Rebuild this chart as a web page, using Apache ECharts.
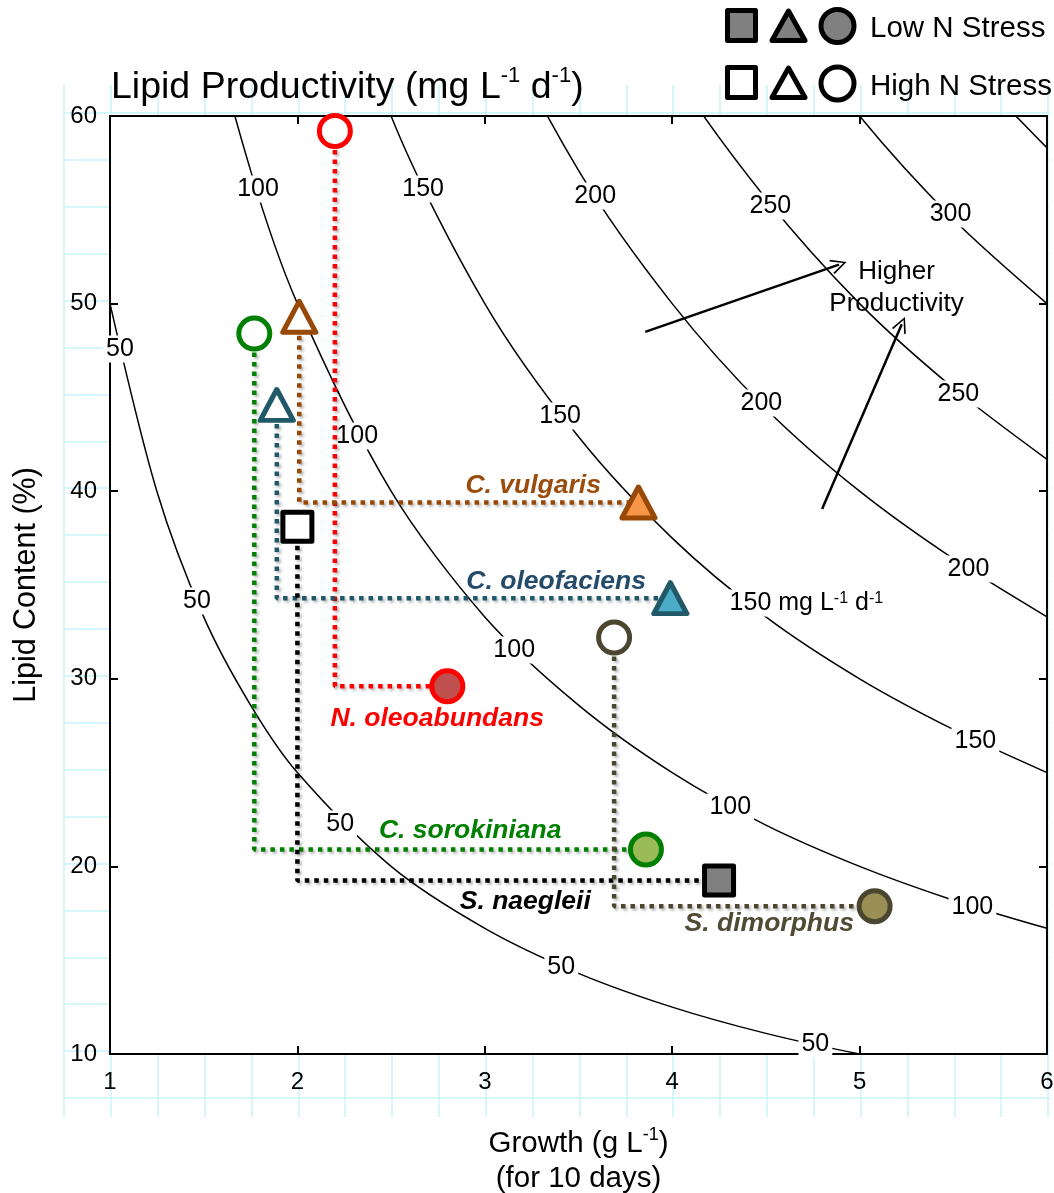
<!DOCTYPE html>
<html>
<head>
<meta charset="utf-8">
<script src="https://cdn.jsdelivr.net/npm/echarts@6/dist/echarts.min.js"></script>
<style>
  body { margin: 0; background: #fff; }
  #chart { width: 1054px; height: 1193px; }
</style>
</head>
<body>
<div id="chart"></div>
<script>
// species: high N stress (open marker) -> low N stress (filled marker)
const species = ['N. oleoabundans', 'C. vulgaris', 'C. oleofaciens', 'C. sorokiniana', 'S. naegleii', 'S. dimorphus'];
const highGrowth = [2.20, 2.01, 1.89, 1.77, 2.00, 3.69];
const highLipid = [59.2, 49.3, 44.6, 48.4, 38.1, 32.2];
const lowGrowth = [2.80, 3.82, 3.99, 3.86, 4.25, 5.08];
const lowLipid = [29.6, 39.4, 34.3, 20.9, 19.25, 17.88];
const shapes = ['circle', 'triangle', 'triangle', 'circle', 'rect', 'circle'];
const strokeColors = ['#ff0000', '#984807', '#215968', '#008000', '#000000', '#4a4630'];
const fillColors = ['#c0504d', '#f79646', '#4bacc6', '#9bbb59', '#808080', '#9a9056'];
const nameColors = ['#ff0000', '#9c4c0c', '#244b6a', '#008000', '#000000', '#4f4b34'];
const nameX = [2.746, 3.258, 3.381, 2.922, 3.216, 4.518];
const nameY = [27.86, 40.28, 35.16, 21.89, 18.1, 16.93];

// productivity contours (mg L-1 d-1), lipid content read along growth samples
const contourX = [1, 1.25, 1.5, 1.75, 2, 2.5, 3, 3.5, 4, 4.5, 5, 5.5, 6];
const contour50 = [50, 40, 33.3, 28.6, 25, 20, 16.7, 14.3, 12.5, 11.1, 10, 9.1, 8.3];
const contour100 = [100, 80, 66.7, 57.1, 50, 40, 33.3, 28.6, 25, 22.2, 20, 18.2, 16.7];
const contour150 = [150, 120, 100, 85.7, 75, 60, 50, 42.9, 37.5, 33.3, 30, 27.3, 25];
const contour200 = [200, 160, 133.3, 114.3, 100, 80, 66.7, 57.1, 50, 44.4, 40, 36.4, 33.3];
const contour250 = [250, 200, 166.7, 142.9, 125, 100, 83.3, 71.4, 62.5, 55.6, 50, 45.5, 41.7];
const contour300 = [300, 240, 200, 171.4, 150, 120, 100, 85.7, 75, 66.7, 60, 54.5, 50];
const contour350 = [350, 280, 233.3, 200, 175, 140, 116.7, 100, 87.5, 77.8, 70, 63.6, 58.3];

// contour labels
const contourLabelText = ['100', '150', '200', '250', '300', '50', '100', '150', '200', '250',
  '50', '100', '150 mg', '200', '100', '150', '50', '100', '50', '50'];
const contourLabelX = [1.790, 2.671, 3.589, 4.524, 5.485, 1.053, 2.319, 3.402, 4.476, 5.527,
  1.464, 3.157, 4.716, 5.581, 4.31, 5.618, 2.228, 5.602, 3.408, 4.764];
const contourLabelY = [56.11, 56.11, 55.74, 55.20, 54.78, 47.58, 42.94, 44.01, 44.70, 45.18,
  34.15, 31.54, 34.04, 35.85, 23.17, 26.68, 22.26, 17.84, 14.64, 10.53];

const xTicks = [1, 2, 3, 4, 5, 6];
const yTicks = [10, 20, 30, 40, 50, 60];

const FONT = 'Liberation Sans, Arial, Helvetica, sans-serif';
const gridColor = '#c9f5f7';

let chart = echarts.init(document.getElementById('chart'));

const contours = [contour50, contour100, contour150, contour200, contour250, contour300, contour350];
const contourSeries = contours.map(c => ({
  type: 'line',
  xAxisIndex: 2,
  yAxisIndex: 2,
  z: 3,
  smooth: 0.3,
  symbol: 'none',
  silent: true,
  lineStyle: {color: '#000', width: 1.5},
  data: contourX.map((x, i) => [x, c[i]])
}));

const contourLabelSeries = {
  type: 'scatter',
  xAxisIndex: 2,
  yAxisIndex: 2,
  z: 4,
  symbolSize: 0,
  silent: true,
  itemStyle: {opacity: 1},
  label: {
    show: true,
    position: 'inside',
    color: '#000',
    fontFamily: FONT,
    fontSize: 25,
    backgroundColor: '#fff',
    padding: [1, 3],
    formatter: p => p.value[2] === '150 mg' ? '150 mg L{s|-1} d{s|-1}' : p.value[2],
    rich: {
      s: {fontSize: 16, lineHeight: 14, verticalAlign: 'top', fontFamily: FONT, color: '#000'}
    }
  },
  data: contourLabelText.map((t, i) => [contourLabelX[i], contourLabelY[i], t])
};

// dotted connectors: open marker -> down -> across to filled marker
const connectorSeries = species.map((s, i) => ({
  type: 'line',
  xAxisIndex: 2,
  yAxisIndex: 2,
  z: 5,
  symbol: 'none',
  silent: true,
  lineStyle: {
    color: strokeColors[i],
    width: 4.5,
    type: [4.5, 5],
    shadowBlur: 3,
    shadowColor: 'rgba(0,0,0,0.3)',
    shadowOffsetX: 2,
    shadowOffsetY: 2
  },
  data: [[highGrowth[i], highLipid[i]], [highGrowth[i], lowLipid[i]], [lowGrowth[i], lowLipid[i]]]
}));

function symbolSize(shape) {
  if (shape === 'triangle') return [33, 31];
  if (shape === 'rect') return 29;
  return 31;
}

const highSeries = {
  type: 'scatter',
  name: 'High N Stress',
  xAxisIndex: 2,
  yAxisIndex: 2,
  z: 6,
  data: species.map((s, i) => ({
    value: [highGrowth[i], highLipid[i]],
    symbol: shapes[i],
    symbolSize: symbolSize(shapes[i]),
    itemStyle: {color: '#fff', borderColor: strokeColors[i], borderWidth: 5, borderJoin: 'round', opacity: 1}
  }))
};

const lowSeries = {
  type: 'scatter',
  name: 'Low N Stress',
  xAxisIndex: 2,
  yAxisIndex: 2,
  z: 6,
  data: species.map((s, i) => ({
    value: [lowGrowth[i], lowLipid[i]],
    symbol: shapes[i],
    symbolSize: symbolSize(shapes[i]),
    itemStyle: {color: fillColors[i], borderColor: strokeColors[i], borderWidth: 5, borderJoin: 'round', opacity: 1}
  }))
};

const nameSeries = {
  type: 'scatter',
  xAxisIndex: 2,
  yAxisIndex: 2,
  z: 7,
  symbolSize: 0,
  silent: true,
  itemStyle: {opacity: 1},
  data: species.map((s, i) => ({
    value: [nameX[i], nameY[i]],
    label: {
      show: true,
      position: 'inside',
      formatter: s,
      color: nameColors[i],
      fontFamily: FONT,
      fontSize: 26.5,
      fontWeight: 'bold',
      fontStyle: 'italic'
    }
  }))
};

// "Higher Productivity" arrows
const arrowHead = 'path://M0,0 L10,18 L8,19 L0,4 L-8,19 L-10,18 Z';
const arrowSeries = {
  type: 'line',
  xAxisIndex: 2,
  yAxisIndex: 2,
  z: 4,
  symbol: 'none',
  silent: true,
  data: [],
  markLine: {
    silent: true,
    symbol: ['none', arrowHead],
    symbolSize: [15, 16],
    label: {show: false},
    lineStyle: {color: '#000', width: 2.5, type: 'solid'},
    data: [
      [{coord: [3.856, 48.49]}, {coord: [4.89, 52.08]}],
      [{coord: [4.80, 39.05]}, {coord: [5.225, 48.9]}]
    ]
  }
};

const higherTextSeries = {
  type: 'scatter',
  xAxisIndex: 2,
  yAxisIndex: 2,
  z: 4,
  symbolSize: 0,
  silent: true,
  itemStyle: {opacity: 1},
  label: {
    show: true,
    position: 'inside',
    formatter: 'Higher\nProductivity',
    color: '#000',
    fontFamily: FONT,
    fontSize: 26,
    lineHeight: 32,
    align: 'center'
  },
  data: [[5.197, 50.86]]
};

const hiddenAxis = {
  axisLine: {show: false},
  axisTick: {show: false},
  axisLabel: {show: false}
};

const mainAxisCommon = {
  gridIndex: 2,
  type: 'value',
  z: 1,
  axisLine: {show: true, lineStyle: {color: '#000', width: 2}},
  axisTick: {show: true, inside: true, length: 8, lineStyle: {color: '#000', width: 2}},
  splitLine: {show: false}
};

const option = {
  backgroundColor: '#fff',
  animation: false,
  title: {
    left: 106,
    top: 60,
    text: '{a|Lipid Productivity (mg L}{s|-1}{a| d}{s|-1}{a|)}',
    textStyle: {
      fontWeight: 'normal',
      rich: {
        a: {fontSize: 37.5, lineHeight: 46, fontFamily: FONT, fontWeight: 'normal', color: '#000'},
        s: {fontSize: 22, lineHeight: 23, verticalAlign: 'top', fontFamily: FONT, fontWeight: 'normal', color: '#000'}
      }
    }
  },
  grid: [
    {left: 64, top: 85, width: 984, height: 1032, show: false, outerBoundsMode: 'none'},
    {left: 64, top: 113, width: 986, height: 985, show: false, outerBoundsMode: 'none'},
    {left: 110, top: 116, width: 937, height: 938, show: true, outerBoundsMode: 'none',
      backgroundColor: '#fff', borderColor: '#000', borderWidth: 2}
  ],
  xAxis: [
    Object.assign({gridIndex: 0, type: 'value', min: 0, max: 21, interval: 1, z: 0,
      splitLine: {show: true, lineStyle: {color: gridColor, width: 1.5}}}, hiddenAxis),
    Object.assign({gridIndex: 1, type: 'value', min: 0, max: 1, z: 0, splitLine: {show: false}}, hiddenAxis),
    Object.assign({}, mainAxisCommon, {
      position: 'bottom',
      min: xTicks[0], max: xTicks[xTicks.length - 1], interval: 1,
      splitArea: {show: true, areaStyle: {color: ['#fff']}},
      axisLabel: {show: true, color: '#000', fontSize: 24, fontFamily: FONT, margin: 16},
      name: '{a|Growth (g L}{s|-1}{a|)}\n{a|(for 10 days)}',
      nameLocation: 'middle',
      nameGap: 72,
      nameTextStyle: {
        rich: {
          a: {fontSize: 29.5, lineHeight: 35, fontFamily: FONT, color: '#000', align: 'center'},
          s: {fontSize: 18, lineHeight: 16, verticalAlign: 'top', fontFamily: FONT, color: '#000'}
        }
      }
    }),
    Object.assign({}, mainAxisCommon, {
      position: 'top',
      min: xTicks[0], max: xTicks[xTicks.length - 1], interval: 1,
      axisLabel: {show: false}
    })
  ],
  yAxis: [
    Object.assign({gridIndex: 0, type: 'value', min: 0, max: 1, z: 0, splitLine: {show: false}}, hiddenAxis),
    Object.assign({gridIndex: 1, type: 'value', min: 0, max: 21, interval: 1, z: 0,
      splitLine: {show: true, lineStyle: {color: gridColor, width: 1.5}}}, hiddenAxis),
    Object.assign({}, mainAxisCommon, {
      position: 'left',
      min: yTicks[0], max: yTicks[yTicks.length - 1], interval: 10,
      axisLabel: {show: true, color: '#000', fontSize: 24, fontFamily: FONT, margin: 13},
      name: 'Lipid Content (%)',
      nameLocation: 'middle',
      nameGap: 68,
      nameTextStyle: {fontSize: 30.5, fontFamily: FONT, color: '#000'}
    }),
    Object.assign({}, mainAxisCommon, {
      position: 'right',
      min: yTicks[0], max: yTicks[yTicks.length - 1], interval: 10,
      axisLabel: {show: false}
    })
  ],
  graphic: [
    // legend: Low N Stress
    {type: 'rect', shape: {x: 727.5, y: 10.5, width: 28, height: 30},
      style: {fill: '#808080', stroke: '#000', lineWidth: 5, lineJoin: 'round'}, z: 10},
    {type: 'polygon', shape: {points: [[788.5, 11], [805, 40.5], [772, 40.5]]},
      style: {fill: '#808080', stroke: '#000', lineWidth: 5, lineJoin: 'round'}, z: 10},
    {type: 'circle', shape: {cx: 837.5, cy: 26, r: 16.5},
      style: {fill: '#808080', stroke: '#000', lineWidth: 5}, z: 10},
    {type: 'text', x: 870, y: 29, z: 10,
      style: {text: 'Low N Stress', fontSize: 29.5, fontFamily: FONT, fill: '#000', verticalAlign: 'middle'}},
    // legend: High N Stress
    {type: 'rect', shape: {x: 727.5, y: 67.5, width: 28, height: 30},
      style: {fill: '#fff', stroke: '#000', lineWidth: 5, lineJoin: 'round'}, z: 10},
    {type: 'polygon', shape: {points: [[788.5, 68], [805, 97.5], [772, 97.5]]},
      style: {fill: '#fff', stroke: '#000', lineWidth: 5, lineJoin: 'round'}, z: 10},
    {type: 'circle', shape: {cx: 837.5, cy: 83.5, r: 16.5},
      style: {fill: '#fff', stroke: '#000', lineWidth: 5}, z: 10},
    {type: 'text', x: 870, y: 87, z: 10,
      style: {text: 'High N Stress', fontSize: 29.5, fontFamily: FONT, fill: '#000', verticalAlign: 'middle'}}
  ],
  series: [
    ...contourSeries,
    contourLabelSeries,
    arrowSeries,
    higherTextSeries,
    ...connectorSeries,
    highSeries,
    lowSeries,
    nameSeries
  ]
};

chart.setOption(option);
</script>
</body>
</html>
